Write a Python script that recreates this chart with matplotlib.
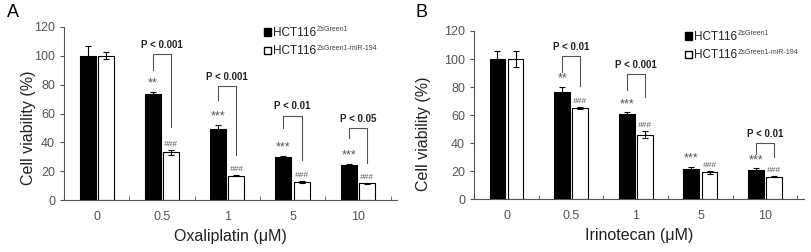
import numpy as np
import matplotlib
matplotlib.use("Agg")
import matplotlib.pyplot as plt
from matplotlib.patches import Patch

plt.rcParams["font.family"] = ["Liberation Sans", "DejaVu Sans"]

# Data ........................................................................
doses = ["0", "0.5", "1", "5", "10"]

oxa_ctrl = [100, 73.5, 49.5, 30, 24]
oxa_ctrl_err = [6.5, 1.5, 2.5, 0.6, 1.0]
oxa_mir = [100, 33, 17, 12.5, 11.5]
oxa_mir_err = [2.5, 1.5, 0.6, 0.6, 0.5]
oxa_stars = ["", "**", "***", "***", "***"]
oxa_hash = ["", "###", "###", "###", "###"]
oxa_pvals = ["", "P < 0.001", "P < 0.001", "P < 0.01", "P < 0.05"]
oxa_bracket_top = [0, 101, 79, 58.5, 50]
oxa_bracket_left = [0, 90, 69.5, 50, 43]
oxa_bracket_right = [0, 51, 31, 28, 25.5]

iri_ctrl = [100, 76.5, 60.5, 21.5, 20.5]
iri_ctrl_err = [6, 3.5, 1.5, 1.5, 1.5]
iri_mir = [100, 65, 46, 19, 16]
iri_mir_err = [6, 1, 2.5, 1, 0.5]
iri_stars = ["", "**", "***", "***", "***"]
iri_hash = ["", "###", "###", "###", "###"]
iri_pvals = ["", "P < 0.01", "P < 0.001", "", "P < 0.01"]
iri_bracket_top = [0, 102, 89, 0, 40]
iri_bracket_left = [0, 91, 78, 0, 32.5]
iri_bracket_right = [0, 81, 73, 0, 30]

labels = ["HCT116", "HCT116"]
superscripts = ["ZsGreen1", "ZsGreen1-miR-194"]

gray = "#555555"
w = 0.245
off = 0.14


def panel(ax, ctrl, cerr, mir, merr, stars, hashes, pvals, btop, bleft, bright, xlabel, legx, ylab_xy):
    x = np.arange(len(doses))
    ax.bar(x - off, ctrl, w, color="black", edgecolor="black", linewidth=0.8,
           yerr=cerr, error_kw=dict(ecolor="black", elinewidth=0.8, capsize=2, capthick=0.8))
    ax.bar(x + off, mir, w, color="white", edgecolor="black", linewidth=0.8,
           yerr=merr, error_kw=dict(ecolor="black", elinewidth=0.8, capsize=2, capthick=0.8))

    for i in range(len(doses)):
        if stars[i]:
            ax.text(x[i] - off, ctrl[i] + cerr[i] + 1.5, stars[i], ha="center", va="bottom",
                    fontsize=9, color=gray)
        if hashes[i]:
            ax.text(x[i] + off, mir[i] + merr[i] + 1.5, hashes[i], ha="center", va="bottom",
                    fontsize=6, color=gray, style="italic")
        if pvals[i]:
            ax.plot([x[i] - off, x[i] - off, x[i] + off, x[i] + off],
                    [bleft[i], btop[i], btop[i], bright[i]], color=gray, lw=0.8)
            ax.text(x[i], btop[i] + 3, pvals[i], ha="center", va="bottom",
                    fontsize=7, fontweight="bold", color="#222222")

    ax.set_xlim(-0.5, 4.6)
    ax.set_ylim(0, 120)
    ax.set_yticks(range(0, 121, 20))
    ax.set_xticks(x)
    ax.set_xticklabels(doses)
    ax.set_xticks(np.arange(0.5, 4.6, 1), minor=True)
    ax.tick_params(axis="x", which="major", length=0, labelsize=9, labelcolor=gray, pad=8)
    ax.tick_params(axis="x", which="minor", length=3, color=gray, direction="in")
    ax.tick_params(axis="y", length=3, color=gray, labelsize=9, labelcolor=gray)
    for s in ["top", "right"]:
        ax.spines[s].set_visible(False)
    for s in ["left", "bottom"]:
        ax.spines[s].set_color(gray)
        ax.spines[s].set_linewidth(0.8)
    ax.set_ylabel("Cell viability (%)", fontsize=11.5, color="#222222")
    ax.yaxis.set_label_coords(*ylab_xy)
    ax.set_xlabel(xlabel, fontsize=11.5, color="#222222")

    handles = [Patch(facecolor="black", edgecolor="black"),
               Patch(facecolor="white", edgecolor="black")]
    leg = ax.legend(handles, labels, loc="upper left", bbox_to_anchor=(legx, 1.0), frameon=False,
                    fontsize=8.5, handlelength=0.6, handleheight=0.6, handletextpad=0.15,
                    labelspacing=0.55, borderpad=0, borderaxespad=0, labelcolor="#222222")
    return leg


fig = plt.figure(figsize=(8.12, 2.52), dpi=100)
ax1 = fig.add_axes([0.079, 0.206, 0.41, 0.687])
ax2 = fig.add_axes([0.584, 0.21, 0.406, 0.667])

leg1 = panel(ax1, oxa_ctrl, oxa_ctrl_err, oxa_mir, oxa_mir_err, oxa_stars, oxa_hash, oxa_pvals,
             oxa_bracket_top, oxa_bracket_left, oxa_bracket_right, "Oxaliplatin (\u03bcM)", 0.6,
             (-0.085, 0.42))
leg2 = panel(ax2, iri_ctrl, iri_ctrl_err, iri_mir, iri_mir_err, iri_stars, iri_hash, iri_pvals,
             iri_bracket_top, iri_bracket_left, iri_bracket_right, "Irinotecan (\u03bcM)", 0.64,
             (-0.13, 0.39))

fig.text(0.008, 0.985, "A", fontsize=13, va="top", ha="left")
fig.text(0.512, 0.985, "B", fontsize=13, va="top", ha="left")

# Superscripts next to legend labels (placed after a first draw)
fig.canvas.draw()
inv = fig.transFigure.inverted()
for leg in [leg1, leg2]:
    for t, sup in zip(leg.get_texts(), superscripts):
        bb = t.get_window_extent()
        fx, fy = inv.transform((bb.x1 + 0.5, bb.y1 + 0.5))
        fig.text(fx, fy, sup, ha="left", va="top", fontsize=5, color="#444444")

fig.savefig("out.png", dpi=100)
